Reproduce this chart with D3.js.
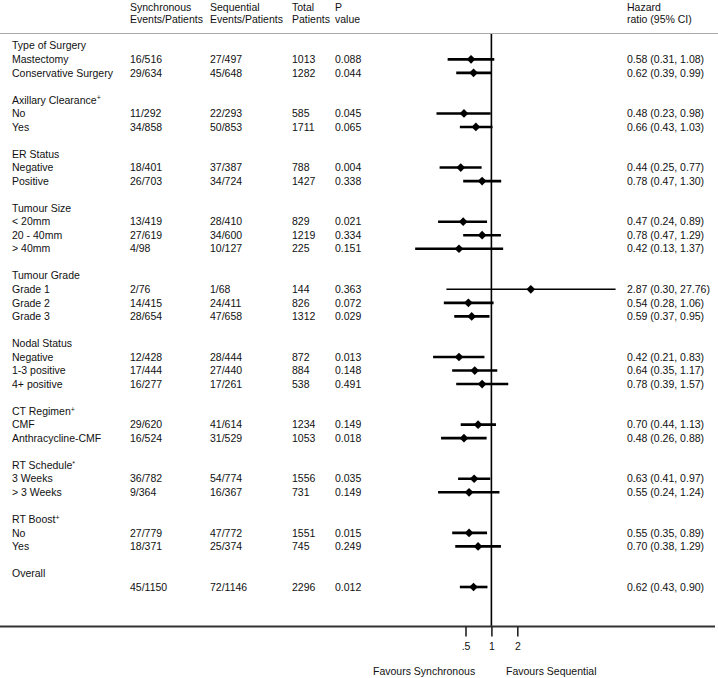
<!DOCTYPE html>
<html>
<head>
<meta charset="utf-8">
<script src="https://cdn.jsdelivr.net/npm/d3@7"></script>
<style>
  html, body { margin: 0; padding: 0; background: #fff; }
  svg { display: block; }
  text { font-family: "Liberation Sans", Arial, sans-serif; font-size: 10.5px; fill: #111; }
</style>
</head>
<body>
<script>
// ---- Data ----
const groups = ["Type of Surgery", "Axillary Clearance", "ER Status", "Tumour Size", "Tumour Grade",
                "Nodal Status", "CT Regimen", "RT Schedule", "RT Boost", "Overall"];
const groupMarks = ["", "+", "", "", "", "", "+", "*", "+", ""];
const subgroupLabels = ["Mastectomy", "Conservative Surgery", "No", "Yes", "Negative", "Positive",
  "< 20mm", "20 - 40mm", "> 40mm", "Grade 1", "Grade 2", "Grade 3", "Negative", "1-3 positive",
  "4+ positive", "CMF", "Anthracycline-CMF", "3 Weeks", "> 3 Weeks", "No", "Yes", ""];
const groupOf = [0,0,1,1,2,2,3,3,3,4,4,4,5,5,5,6,6,7,7,8,8,9];
const syncEvents = ["16/516","29/634","11/292","34/858","18/401","26/703","13/419","27/619","4/98",
  "2/76","14/415","28/654","12/428","17/444","16/277","29/620","16/524","36/782","9/364","27/779","18/371","45/1150"];
const seqEvents = ["27/497","45/648","22/293","50/853","37/387","34/724","28/410","34/600","10/127",
  "1/68","24/411","47/658","28/444","27/440","17/261","41/614","31/529","54/774","16/367","47/772","25/374","72/1146"];
const totals = [1013,1282,585,1711,788,1427,829,1219,225,144,826,1312,872,884,538,1234,1053,1556,731,1551,745,2296];
const pValues = ["0.088","0.044","0.045","0.065","0.004","0.338","0.021","0.334","0.151","0.363","0.072",
  "0.029","0.013","0.148","0.491","0.149","0.018","0.035","0.149","0.015","0.249","0.012"];
const hr = [0.58,0.62,0.48,0.66,0.44,0.78,0.47,0.78,0.42,2.87,0.54,0.59,0.42,0.64,0.78,0.70,0.48,0.63,0.55,0.55,0.70,0.62];
const lo = [0.31,0.39,0.23,0.43,0.25,0.47,0.24,0.47,0.13,0.30,0.28,0.37,0.21,0.35,0.39,0.44,0.26,0.41,0.24,0.35,0.38,0.43];
const hi = [1.08,0.99,0.98,1.03,0.77,1.30,0.89,1.29,1.37,27.76,1.06,0.95,0.83,1.17,1.57,1.13,0.88,0.97,1.24,0.89,1.29,0.90];
const tickValues = [0.5, 1, 2];
const tickLabels = [".5", "1", "2"];
const headers = [
  ["Synchronous", "Events/Patients"],
  ["Sequential", "Events/Patients"],
  ["Total", "Patients"],
  ["P", "value"],
  ["Hazard", "ratio (95% CI)"]
];
const favourLabels = ["Favours Synchronous", "Favours Sequential"];

// ---- Layout ----
const W = 718, H = 678;
const svg = d3.select("body").append("svg").attr("width", W).attr("height", H);

// build row indices
const headerRow = [];
const itemRow = [];
let r = 0;
groups.forEach((g, gi) => {
  headerRow[gi] = r; r++;
  groupOf.forEach((go, i) => { if (go === gi) { itemRow[i] = r; r++; } });
  r++; // blank
});

const y = d3.scaleLinear().domain([0, 40]).range([45.8, 587]);
const x = d3.scaleLog().domain([0.5, 2]).range([465.5, 517.3]);
const x1 = x(1);
const colX = [130, 210, 292, 335, 627];
const labelX = 12;

// header texts
headers.forEach((h, i) => {
  svg.append("text").attr("x", colX[i]).attr("y", 7).attr("dy", "0.35em").text(h[0]);
  svg.append("text").attr("x", colX[i]).attr("y", 19).attr("dy", "0.35em").text(h[1]);
});
svg.append("line").attr("x1", 0).attr("x2", W).attr("y1", 33.5).attr("y2", 33.5)
  .attr("stroke", "#aaaaaa").attr("stroke-width", 1);

// group headers
groups.forEach((g, gi) => {
  const t = svg.append("text").attr("x", labelX).attr("y", y(headerRow[gi])).attr("dy", "0.35em").text(g);
  if (groupMarks[gi]) {
    t.append("tspan").attr("dy", "-0.45em").attr("font-size", "7px").text(groupMarks[gi]);
  }
});

// items
const items = subgroupLabels.map((l, i) => ({
  label: l, sync: syncEvents[i], seq: seqEvents[i], tot: totals[i], p: pValues[i],
  hr: hr[i], lo: lo[i], hi: hi[i], row: itemRow[i],
  thin: (+syncEvents[i].split("/")[0] + +seqEvents[i].split("/")[0]) < 10
}));

const rows = svg.append("g").selectAll("g").data(items).join("g")
  .attr("transform", d => `translate(0,${y(d.row)})`);
rows.append("text").attr("x", labelX).attr("dy", "0.35em").text(d => d.label);
rows.append("text").attr("x", colX[0]).attr("dy", "0.35em").text(d => d.sync);
rows.append("text").attr("x", colX[1]).attr("dy", "0.35em").text(d => d.seq);
rows.append("text").attr("x", colX[2]).attr("dy", "0.35em").text(d => d.tot);
rows.append("text").attr("x", colX[3]).attr("dy", "0.35em").text(d => d.p);
rows.append("text").attr("x", colX[4]).attr("dy", "0.35em")
  .text(d => `${d.hr.toFixed(2)} (${d.lo.toFixed(2)}, ${d.hi.toFixed(2)})`);

// vertical null line
svg.append("line").attr("x1", x1).attr("x2", x1).attr("y1", 34).attr("y2", 627)
  .attr("stroke", "#000").attr("stroke-width", 1.6);

// CI lines
rows.append("line").attr("x1", d => x(d.lo)).attr("x2", d => x(d.hi))
  .attr("stroke", "#000").attr("stroke-width", d => d.thin ? 1.5 : 2.6);
// diamonds
const diamond = d3.symbol().type(d3.symbolSquare).size(38);
rows.append("path").attr("d", diamond())
  .attr("transform", d => `translate(${x(d.hr)},0) rotate(45)`)
  .attr("fill", "#000");

// bottom axis
svg.append("line").attr("x1", 0).attr("x2", 715).attr("y1", 626.5).attr("y2", 626.5)
  .attr("stroke", "#333").attr("stroke-width", 2);
const axis = d3.axisBottom(x).tickValues(tickValues)
  .tickFormat((d, i) => tickLabels[i]).tickSize(10).tickPadding(6);
const ag = svg.append("g").attr("transform", "translate(0,626.5)").call(axis);
ag.select(".domain").remove();
ag.selectAll(".tick line").attr("stroke", "#222").attr("stroke-width", 1.6);
ag.selectAll(".tick text").attr("font-family", "Liberation Sans, Arial, sans-serif")
  .attr("font-size", "10.5px").attr("fill", "#111");

// favours labels
svg.append("text").attr("x", 373).attr("y", 671).attr("dy", "0.35em").text(favourLabels[0]);
svg.append("text").attr("x", 506).attr("y", 671).attr("dy", "0.35em").text(favourLabels[1]);
</script>
</body>
</html>
